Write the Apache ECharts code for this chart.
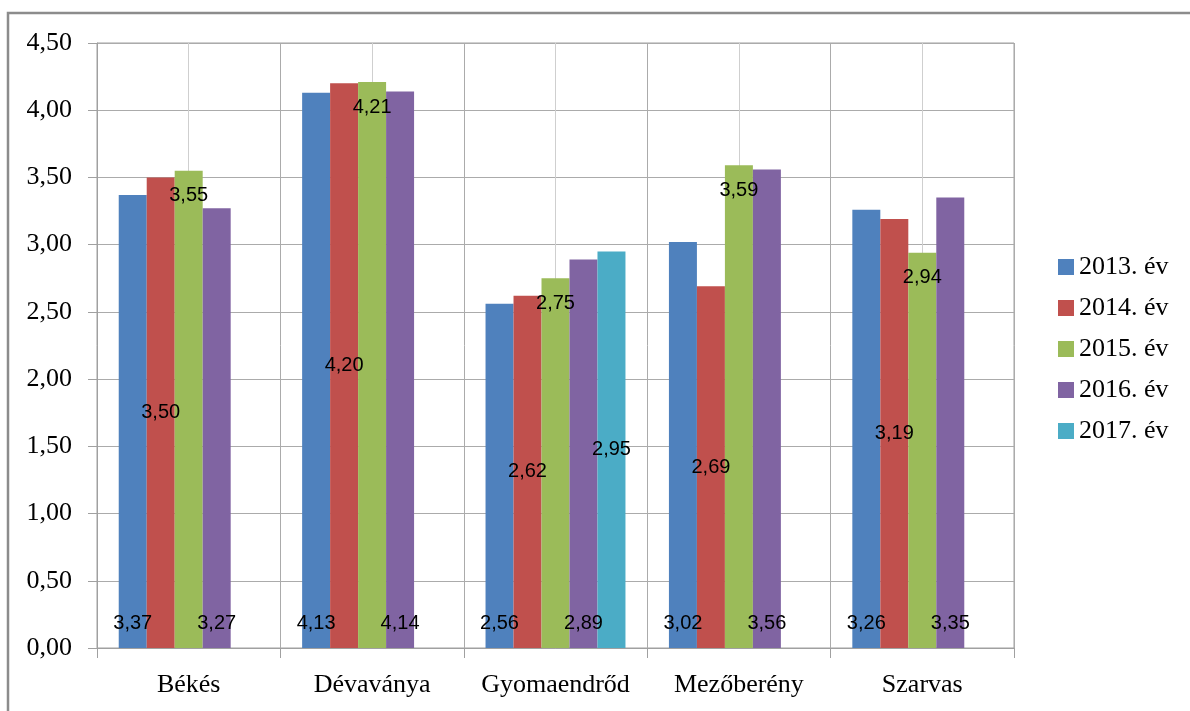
<!DOCTYPE html>
<html>
<head>
<meta charset="utf-8">
<script src="https://cdn.jsdelivr.net/npm/echarts@6/dist/echarts.min.js"></script>
<style>html,body{margin:0;padding:0;background:#fff}#c{width:1190px;height:711px}</style>
</head>
<body>
<div id="c"></div>
<script>
const categories = ['Békés', 'Dévaványa', 'Gyomaendrőd', 'Mezőberény', 'Szarvas'];
const seriesNames = ['2013. év', '2014. év', '2015. év', '2016. év', '2017. év'];
const v2013 = [3.37, 4.13, 2.56, 3.02, 3.26];
const v2014 = [3.50, 4.20, 2.62, 2.69, 3.19];
const v2015 = [3.55, 4.21, 2.75, 3.59, 2.94];
const v2016 = [3.27, 4.14, 2.89, 3.56, 3.35];
const v2017 = [null, null, 2.95, null, null];
const yTicks = { min: 0, max: 4.5, interval: 0.5 };

const colors = ['#4F81BD', '#C0504D', '#9BBB59', '#8064A2', '#4BACC6'];
const labelPos = ['insideBottom', 'inside', 'insideTop', 'insideBottom', 'inside'];
const allValues = [v2013, v2014, v2015, v2016, v2017];
const fmt = v => Number(v).toFixed(2).replace('.', ',');

const series = allValues.map((vals, i) => ({
  name: seriesNames[i],
  type: 'bar',
  xAxisIndex: 0,
  data: vals,
  barGap: '0%',
  barCategoryGap: '23.7%',
  itemStyle: { color: colors[i] },
  label: {
    show: true,
    position: labelPos[i],
    distance: 15,
    formatter: p => fmt(p.value),
    color: '#000',
    fontFamily: 'Liberation Sans',
    fontSize: 20,
    lineHeight: 20
  }
}));

const chart = echarts.init(document.getElementById('c'));
chart.setOption({
  animation: false,
  color: colors,
  grid: { left: 97, top: 43, right: 176, bottom: 63, show: true, borderColor: '#a0a0a0', borderWidth: 1, backgroundColor: 'transparent' },
  graphic: [{
    type: 'rect',
    shape: { x: 8, y: 13, width: 1200, height: 720 },
    style: { fill: 'none', stroke: '#8c8c8c', lineWidth: 2.5 },
    silent: true
  }],
  legend: {
    orient: 'vertical',
    left: 1053,
    top: 249,
    itemWidth: 16,
    itemHeight: 16,
    itemGap: 15,
    icon: 'rect',
    data: seriesNames,
    textStyle: { fontFamily: 'Liberation Serif', fontSize: 26, lineHeight: 26, color: '#000' }
  },
  xAxis: [{
    type: 'category',
    data: categories,
    axisLine: { lineStyle: { color: '#a0a0a0' } },
    axisTick: { show: true, interval: 0, length: 10, lineStyle: { color: '#a0a0a0' } },
    axisLabel: { interval: 0, fontFamily: 'Liberation Serif', fontSize: 26, color: '#000', margin: 24 },
    splitLine: { show: false }
  }, {
    type: 'category',
    data: ['0','1','2','3','4','5','6','7','8','9'],
    position: 'bottom',
    axisLine: { show: false },
    axisTick: { show: false, interval: 0 },
    axisLabel: { show: false, interval: 0 },
    splitLine: { show: true, interval: 0, lineStyle: { color: ['#ababab', '#cfcfcf'], width: 1 } }
  }],
  yAxis: {
    type: 'value',
    min: yTicks.min,
    max: yTicks.max,
    interval: yTicks.interval,
    axisLine: { show: true, lineStyle: { color: '#a0a0a0' } },
    axisTick: { show: true, length: 9, lineStyle: { color: '#a0a0a0' } },
    axisLabel: { formatter: v => fmt(v), fontFamily: 'Liberation Serif', fontSize: 26, color: '#000', margin: 25 },
    splitLine: { show: true, lineStyle: { color: '#ababab', width: 1 } }
  },
  series: series
});
</script>
</body>
</html>
